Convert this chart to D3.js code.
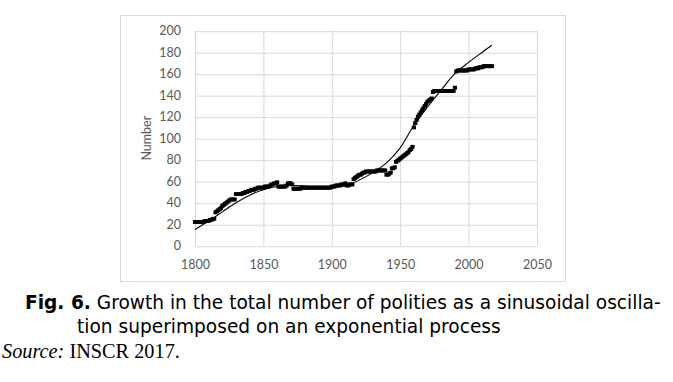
<!DOCTYPE html>
<html>
<head>
<meta charset="utf-8">
<script src="https://cdn.jsdelivr.net/npm/d3@7"></script>
<style>
  html, body { margin: 0; padding: 0; background: #fff; }
  svg { display: block; }
</style>
</head>
<body>
<svg id="chart" width="673" height="382"></svg>
<script>
// ---- data ----
const startYear = 1800;
// yearly number of polities, 1800..2017
const polities = [
  22,22,22,22,22,22,22,23,23,          // 1800-1808
  23,23,24,24,25,25,                   // 1809-1814
  31,32,33,34,35,37,                   // 1815-1820
  38,39,40,41,                         // 1821-1824
  42,43,43,43,43,                      // 1825-1829
  48,48,48,48,48,49,49,                // 1830-1836
  50,50,51,51,52,52,52,53,53,          // 1837-1845
  54,54,54,54,54,55,55,55,55,56,       // 1846-1855
  57,57,58,58,59,                      // 1856-1860
  55,55,55,55,55,55,56,                // 1861-1867
  58,58,58,57,                         // 1868-1871
  53,53,53,53,53,53,54,54,             // 1872-1879
  54,54,54,54,54,54,54,54,54,54,54,54,54,54,54,54,54,54,54,54, // 1880-1899
  55,55,55,56,56,56,56,57,57,57,58,    // 1900-1910
  56,56,57,57,57,                      // 1911-1915
  62,63,64,65,66,66,67,                // 1916-1922
  68,68,69,69,69,69,69,                // 1923-1929
  69,69,69,70,70,70,70,70,70,70,       // 1930-1939
  66,66,67,68,                         // 1940-1943
  72,72,73,                            // 1944-1946
  78,79,80,81,82,83,84,85,86,87,89,90,92, // 1947-1959
  110,114,117,120,122,124,126,128,130,132,134,135,136,137, // 1960-1973
  143,144,144,144,144,144,144,144,144,144,144,144,144,144,144,144, // 1974-1989
  147,                                 // 1990
  162,163,163,163,163,163,163,163,163,164, // 1991-2000
  164,164,164,164,165,165,165,166,166,166,167,167,167,167,167,167,167 // 2001-2017
];
// fitted trend (sinusoid on exponential), read at these years
const trendYears  = [1800,1810,1820,1830,1840,1850,1860,1870,1880,1890,1900,1910,1920,1930,1940,1950,1960,1970,1980,1990,2000,2010,2017];
const trendValues = [15,  23,  31.5,40,  47,  52,  55,  56,  55.5,54.5,54.5,56,  61,  68,  77,  91,  112, 129, 145, 160, 170.5,180, 186.5];
const xTicks = [1800,1850,1900,1950,2000,2050];
const yTicks = [0,20,40,60,80,100,120,140,160,180,200];
const yTitle = "Number";
const captionBold = "Fig. 6.";
const captionLine1 = " Growth in the total number of polities as a sinusoidal oscilla-";
const captionLine2 = "tion superimposed on an exponential process";
const sourceLabel = "Source:";
const sourceText = " INSCR 2017.";

// ---- drawing ----
const svg = d3.select("#chart");
const x = d3.scaleLinear().domain([1800, 2050]).range([195, 537]);
const y = d3.scaleLinear().domain([0, 200]).range([245.7, 30.7]);
const grid = "#d9d9d9";
const tickFont = "Lato, 'Open Sans', sans-serif";

// outer chart border
svg.append("rect")
  .attr("x", 120.5).attr("y", 15.5).attr("width", 445).attr("height", 266)
  .attr("fill", "#fff").attr("stroke", grid).attr("stroke-width", 1);

// y axis + horizontal gridlines
const gy = svg.append("g").attr("transform", `translate(${x(1800)},0)`)
  .call(d3.axisLeft(y).tickValues(yTicks).tickSize(-(x(2050) - x(1800))).tickPadding(14));
gy.select(".domain").remove();
gy.selectAll(".tick line").attr("stroke", grid).attr("stroke-width", 1)
  .attr("transform", "translate(0,0.5)");
gy.selectAll(".tick text").attr("fill", "#595959").attr("font-size", 12.5)
  .attr("font-family", tickFont);

// x axis + vertical gridlines
const gx = svg.append("g").attr("transform", `translate(0,${y(0)})`)
  .call(d3.axisBottom(x).tickValues(xTicks).tickFormat(d3.format("d"))
    .tickSize(-(y(0) - y(200))).tickPadding(14));
gx.select(".domain").remove();
gx.selectAll(".tick line").attr("stroke", grid).attr("stroke-width", 1);
gx.selectAll(".tick text").attr("fill", "#595959").attr("font-size", 12.5)
  .attr("font-family", tickFont);

// y title
svg.append("text")
  .attr("transform", `translate(151,${(y(0) + y(200)) / 2}) rotate(-90)`)
  .attr("text-anchor", "middle")
  .attr("fill", "#595959").attr("font-size", 12.5).attr("font-family", tickFont)
  .text(yTitle);

// data markers
const pts = polities.map((v, i) => ({ year: startYear + i, value: v }));
svg.append("g").selectAll("rect").data(pts).join("rect")
  .attr("x", d => x(d.year) - 2.1)
  .attr("y", d => y(d.value) - 1.9)
  .attr("width", 4.2).attr("height", 3.8)
  .attr("fill", "#000");

// trend line
const trend = trendYears.map((t, i) => ({ year: t, value: trendValues[i] }));
svg.append("path").datum(trend)
  .attr("fill", "none").attr("stroke", "#000").attr("stroke-width", 1.1)
  .attr("d", d3.line().x(d => x(d.year)).y(d => y(d.value)).curve(d3.curveCatmullRom.alpha(0.5)));

// caption: font size fitted so line 1 spans the reference width
const capFont = "'DejaVu Sans', Verdana, sans-serif";
const cap1 = svg.append("text").attr("x", 25).attr("y", 308.5)
  .attr("font-family", capFont).attr("font-size", 16).attr("fill", "#000");
cap1.append("tspan").attr("font-weight", "bold").text(captionBold);
cap1.append("tspan").text(captionLine1);
const capSize = 16 * 636 / cap1.node().getComputedTextLength();
cap1.attr("font-size", capSize);
svg.append("text").attr("x", 77).attr("y", 332.5)
  .attr("font-family", capFont).attr("font-size", capSize).attr("fill", "#000")
  .text(captionLine2);

const src = svg.append("text").attr("x", 2).attr("y", 358)
  .attr("font-family", "'Liberation Serif', 'Times New Roman', serif")
  .attr("font-size", 16).attr("fill", "#000");
src.append("tspan").attr("font-style", "italic").text(sourceLabel);
src.append("tspan").text(sourceText);
src.attr("font-size", 16 * 178 / src.node().getComputedTextLength());
</script>
</body>
</html>
